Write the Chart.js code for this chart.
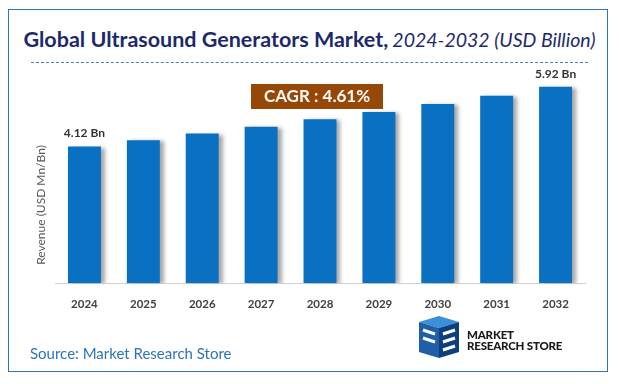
<!DOCTYPE html>
<html>
<head>
<meta charset="utf-8">
<script src="https://cdn.jsdelivr.net/npm/chart.js@4"></script>
<style>
  body { margin: 0; background: #fff; }
  #wrap { position: relative; width: 619px; height: 384px; overflow: hidden; font-family: Lato, "Open Sans", sans-serif; }
  #frame { position: absolute; left: 8px; top: 9px; width: 598px; height: 361px; border: 1.5px solid #2e75b6; }
  #title { position: absolute; left: 0; width: 619px; top: 26px; text-align: center; color: #1c2a6b; white-space: nowrap; }
  #title b { font-size: 21.5px; font-weight: 700; }
  #title i { font-size: 19.5px; font-weight: 400; }
  #rule { position: absolute; left: 31px; top: 62px; width: 557px; border-top: 1.2px dashed #4a7ebb; }
  #source { position: absolute; left: 30px; top: 344px; font-size: 15px; color: #2e75b6; }
  #logo { position: absolute; left: 413px; top: 314px; width: 160px; height: 50px; }
  #logo span { position: absolute; left: 54px; top: 15px; font-size: 11.5px; font-weight: 900; line-height: 11px; color: #1a1a1a; letter-spacing: -0.2px; }
  canvas { position: absolute; left: 0; top: 0; }
</style>
</head>
<body>
<div id="wrap">
  <div id="frame"></div>
  <div id="title"><b>Global Ultrasound Generators Market,</b> <i>2024-2032 (USD Billion)</i></div>
  <div id="rule"></div>
  <canvas id="chart" width="619" height="384"></canvas>
  <div id="source">Source: Market Research Store</div>
  <div id="logo">
    <svg width="50" height="48" viewBox="0 0 50 48">
      <polygon points="6,8 26,2 46,8 26,14" fill="#3b8fd9"/>
      <polygon points="6,8 26,14 26,44 6,38" fill="#1f5fa8"/>
      <polygon points="26,14 46,8 46,38 26,44" fill="#0d3f7a"/>
      <path d="M10,16 L22,20 M10,24 L22,28 M30,20 L42,16 M30,28 L42,24 M30,36 L42,32" stroke="#fff" stroke-width="3"/>
    </svg>
    <span>MARKET<br>RESEARCH STORE</span>
  </div>
</div>
<script>
// Chart data
const years = ["2024", "2025", "2026", "2027", "2028", "2029", "2030", "2031", "2032"];
const revenue = [4.12, 4.31, 4.51, 4.72, 4.94, 5.16, 5.40, 5.65, 5.92];
const labelled = ["4.12 Bn", "", "", "", "", "", "", "", "5.92 Bn"];
const cagrText = "CAGR : 4.61%";
const yTitle = "Revenue (USD Mn/Bn)";

// shadow behind bars
const barShadow = {
    id: "barShadow",
    beforeDatasetsDraw(chart) {
        const ctx = chart.ctx;
        ctx.save();
        ctx.shadowColor = "rgba(0,0,0,0.35)";
        ctx.shadowOffsetX = 4;
        ctx.shadowOffsetY = 1;
        ctx.shadowBlur = 4;
    },
    afterDatasetsDraw(chart) {
        chart.ctx.restore();
    }
};

// value labels, CAGR box and axis title
const extras = {
    id: "extras",
    afterDraw(chart) {
        const ctx = chart.ctx;
        const meta = chart.getDatasetMeta(0);
        ctx.save();
        ctx.fillStyle = "#333";
        ctx.font = "bold 12px Lato, sans-serif";
        ctx.textAlign = "center";
        ctx.textBaseline = "bottom";
        meta.data.forEach((bar, i) => {
            if (labelled[i]) ctx.fillText(labelled[i], bar.x, bar.y - 7);
        });

        // CAGR box
        ctx.fillStyle = "#974706";
        ctx.fillRect(251, 84, 132, 25);
        ctx.fillStyle = "#fff";
        ctx.font = "bold 17px Lato, sans-serif";
        ctx.textBaseline = "middle";
        ctx.fillText(cagrText, 317, 97);

        // y title
        ctx.translate(41, 205);
        ctx.rotate(-Math.PI / 2);
        ctx.fillStyle = "#595959";
        ctx.font = "12px Lato, sans-serif";
        ctx.fillText(yTitle, 0, 0);
        ctx.restore();
    }
};

new Chart(document.getElementById("chart"), {
    type: "bar",
    data: {
        labels: years,
        datasets: [{
            data: revenue,
            backgroundColor: "#0a70c2",
            barPercentage: 0.56,
            categoryPercentage: 1
        }]
    },
    options: {
        responsive: false,
        animation: false,
        layout: {
            padding: { left: 55, right: 34, top: 51, bottom: 67 }
        },
        plugins: {
            legend: { display: false },
            tooltip: { enabled: false }
        },
        scales: {
            x: {
                grid: { display: false },
                border: { color: "#d0d0d0" },
                ticks: {
                    color: "#404040",
                    font: { family: "Lato", size: 11.5, weight: "bold" },
                    padding: 6
                }
            },
            y: {
                display: false,
                min: 0,
                max: 7
            }
        }
    },
    plugins: [barShadow, extras]
});
</script>
</body>
</html>
